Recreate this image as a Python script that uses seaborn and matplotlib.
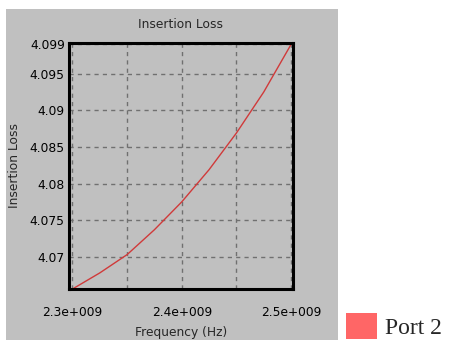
import matplotlib
matplotlib.use("Agg")
import matplotlib.pyplot as plt
from matplotlib.patches import Rectangle, Patch
import seaborn as sns
import pandas as pd

# Swept insertion loss for port 2
frequency_hz = [2.300e9, 2.325e9, 2.350e9, 2.375e9, 2.400e9, 2.425e9, 2.450e9, 2.475e9, 2.500e9]
insertion_loss = [4.0656, 4.0678, 4.0703, 4.0737, 4.0775, 4.0819, 4.0869, 4.0925, 4.0990]
series_name = "Port 2"

x_ticks = [2.3e9, 2.4e9, 2.5e9]
x_tick_labels = ["2.3e+009", "2.4e+009", "2.5e+009"]
x_minor_ticks = [2.35e9, 2.45e9]
y_ticks = [4.099, 4.095, 4.09, 4.085, 4.08, 4.075, 4.07]
y_tick_labels = ["4.099", "4.095", "4.09", "4.085", "4.08", "4.075", "4.07"]

df = pd.DataFrame({"Frequency (Hz)": frequency_hz, "Insertion Loss": insertion_loss})

sns.set_theme(style="white")
plt.rcParams["font.family"] = ["DejaVu Sans"]

W, H = 449, 340
fig = plt.figure(figsize=(W / 100, H / 100), dpi=100)
fig.patch.set_facecolor("white")

# grey chart panel behind the plot
panel = Rectangle((6 / W, 0), (338 - 6) / W, (H - 9) / H,
                  transform=fig.transFigure, facecolor="#c0c0c0",
                  edgecolor="none", zorder=-10)
fig.add_artist(panel)

ax = fig.add_axes([69 / W, (H - 289) / H, (293 - 69) / W, (289 - 43) / H])
ax.set_zorder(1)
ax.set_facecolor("#c0c0c0")

sns.lineplot(data=df, x="Frequency (Hz)", y="Insertion Loss", ax=ax,
             color="#d03a3a", linewidth=1.0)

ax.set_xlim(2.2968e9, 2.5018e9)
ax.set_ylim(4.0656, 4.0992)
ax.set_xticks(x_ticks)
ax.set_xticklabels(x_tick_labels)
ax.set_xticks(x_minor_ticks, minor=True)
ax.set_yticks(y_ticks)
ax.set_yticklabels(y_tick_labels)

ax.grid(True, which="both", color="#707070", linestyle=(0, (3, 3)), linewidth=1.0)
ax.tick_params(axis="both", which="both", length=0, labelsize=8.8, colors="black")
ax.tick_params(axis="x", pad=12)
ax.tick_params(axis="y", pad=3)

for sp in ax.spines.values():
    sp.set_visible(True)
    sp.set_color("black")
    sp.set_linewidth(2.2)

ax.set_title("Insertion Loss", fontsize=8.8, pad=11)
ax.set_xlabel("Frequency (Hz)", fontsize=8.8)
ax.set_ylabel("Insertion Loss", fontsize=8.8)
ax.xaxis.set_label_coords(0.5, -0.15)
ax.yaxis.set_label_coords(-0.215, 0.5)

fig.legend(handles=[Patch(facecolor="#ff6666", edgecolor="none", label=series_name)],
           loc="lower left", bbox_to_anchor=(346 / W, 0.004), frameon=False,
           borderpad=0, borderaxespad=0, handlelength=1.3, handleheight=1.3,
           handletextpad=0.35,
           prop={"family": "Liberation Serif", "size": 17})

fig.savefig("out.png", dpi=100, facecolor="white")
